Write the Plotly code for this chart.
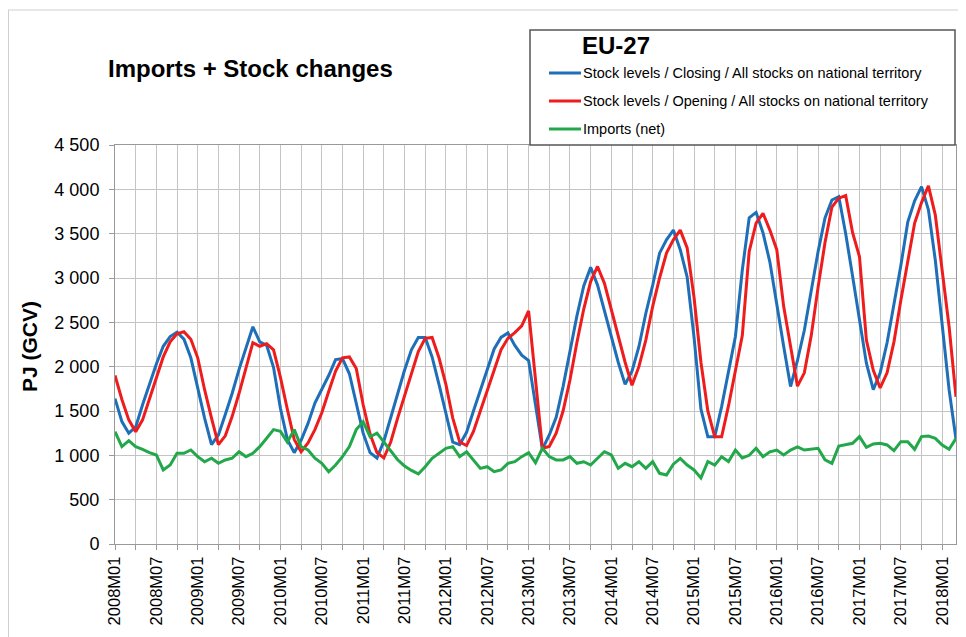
import plotly.graph_objects as go

# EU-27 gas: monthly stock levels and net imports, PJ (GCV), 2008M01 .. 2018M03
years = list(range(2008, 2019))
periods = [f"{y}M{m:02d}" for y in years for m in range(1, 13)][:123]

closing_stock = [
    1640, 1380, 1250, 1320, 1570, 1800, 2030, 2230, 2340, 2390, 2310, 2100,  # 2008
    1740, 1420, 1120, 1230, 1460, 1700, 1970, 2220, 2450, 2280, 2240, 1990,  # 2009
    1530, 1180, 1030, 1170, 1360, 1590, 1750, 1900, 2080, 2090, 1920, 1570,  # 2010
    1250, 1030, 970, 1160, 1430, 1720, 1960, 2190, 2330, 2330, 2110, 1800,   # 2011
    1470, 1150, 1120, 1260, 1500, 1740, 1960, 2200, 2330, 2380, 2240, 2130,  # 2012
    2070, 1560, 1070, 1230, 1430, 1775, 2190, 2570, 2910, 3120, 2920, 2620,  # 2013
    2330, 2050, 1800, 1950, 2225, 2600, 2920, 3280, 3430, 3540, 3320, 3010,  # 2014
    2330, 1520, 1210, 1210, 1550, 1950, 2340, 3090, 3680, 3740, 3510, 3180,  # 2015
    2680, 2230, 1775, 2070, 2410, 2880, 3300, 3677, 3880, 3918, 3500, 3020,  # 2016
    2550, 2040, 1740, 1930, 2270, 2685, 3140, 3630, 3870, 4030, 3770, 3200,  # 2017
    2500, 1740, 1180,                                                        # 2018
]

opening_stock = [
    1900, 1630, 1400, 1265, 1400, 1630, 1880, 2110, 2280, 2370, 2395, 2310,  # 2008
    2100, 1740, 1420, 1120, 1220, 1440, 1700, 2000, 2270, 2230, 2260, 2190,  # 2009
    1880, 1520, 1180, 1040, 1140, 1290, 1480, 1720, 1950, 2100, 2110, 1980,  # 2010
    1570, 1240, 1030, 970, 1150, 1420, 1670, 1930, 2170, 2320, 2330, 2100,   # 2011
    1800, 1420, 1150, 1110, 1270, 1500, 1720, 1960, 2190, 2320, 2384, 2460,  # 2012
    2630, 1850, 1080, 1100, 1250, 1500, 1850, 2270, 2650, 2960, 3130, 2940,  # 2013
    2640, 2340, 2050, 1790, 2000, 2300, 2680, 3000, 3280, 3430, 3540, 3340,  # 2014
    2780, 2050, 1500, 1210, 1210, 1560, 1940, 2350, 3300, 3620, 3730, 3540,  # 2015
    3320, 2680, 2230, 1780, 1930, 2350, 2900, 3400, 3800, 3900, 3930, 3510,  # 2016
    3240, 2300, 1960, 1760, 1930, 2280, 2750, 3170, 3620, 3850, 4040, 3710,  # 2017
    3060, 2450, 1660,                                                        # 2018
]

imports_net = [
    1267, 1098, 1165, 1098, 1068, 1030, 1004, 835, 891, 1023, 1023, 1060,    # 2008
    985, 928, 967, 910, 948, 967, 1041, 985, 1023, 1098, 1192, 1290,         # 2009
    1270, 1150, 1290, 1098, 1060, 967, 910, 815, 891, 985, 1098, 1290,       # 2010
    1380, 1210, 1250, 1150, 1060, 950, 880, 830, 790, 872, 967, 1023,        # 2011
    1079, 1098, 985, 1041, 948, 853, 872, 815, 835, 910, 928, 985,           # 2012
    1030, 917, 1079, 985, 948, 948, 985, 910, 928, 891, 967, 1041,           # 2013
    1004, 853, 910, 872, 928, 853, 928, 797, 778, 900, 965, 890,             # 2014
    835, 745, 930, 890, 985, 930, 1060, 970, 1000, 1080, 985, 1040,          # 2015
    1060, 1005, 1060, 1095, 1060, 1070, 1080, 950, 910, 1105, 1117, 1136,    # 2016
    1211, 1090, 1128, 1136, 1117, 1053, 1154, 1154, 1068, 1211, 1218, 1192,  # 2017
    1117, 1068, 1192,                                                        # 2018
]

series_names = [
    "Stock levels / Closing / All stocks on national territory",
    "Stock levels / Opening / All stocks on national territory",
    "Imports (net)",
]
series_colors = ["#1f6fb8", "#ee1c1c", "#22a84a"]

x_ticks = list(range(0, 123, 6))
x_tick_labels = [periods[i] for i in x_ticks]
y_ticks = [0, 500, 1000, 1500, 2000, 2500, 3000, 3500, 4000, 4500]
y_tick_labels = ["0", "500", "1 000", "1 500", "2 000", "2 500", "3 000", "3 500", "4 000", "4 500"]

FONT = "Liberation Sans, Arial, sans-serif"
GRID = "#c4c4c4"

# the page puts the figure 8px in from the window corner (body margin)
OFF = 8
W, H = 966 - OFF, 637 - OFF
# plot area in window pixels
L, R, T, B = 115, 956, 145, 544


def px_x(px):
    return (px - L) / (R - L)


def px_y(py):
    return (B - py) / (B - T)


fig = go.Figure()
x_idx = list(range(len(periods)))
for name, values, color in zip(series_names, [closing_stock, opening_stock, imports_net], series_colors):
    fig.add_trace(
        go.Scatter(
            x=x_idx,
            y=values,
            mode="lines",
            name=name,
            line=dict(color=color, width=3),
            customdata=periods,
            hovertemplate="%{customdata}: %{y}<extra>" + name + "</extra>",
            showlegend=False,
        )
    )

shapes = [
    # outer chart frame (top and left edge)
    dict(type="line", xref="paper", yref="paper", x0=px_x(OFF), x1=px_x(966), y0=px_y(10), y1=px_y(10),
         line=dict(color="#cfcfcf", width=1)),
    dict(type="line", xref="paper", yref="paper", x0=px_x(OFF + 0.5), x1=px_x(OFF + 0.5), y0=px_y(10), y1=px_y(637),
         line=dict(color="#cfcfcf", width=1)),
    # legend box
    dict(type="rect", xref="paper", yref="paper", x0=px_x(530), x1=px_x(955), y0=px_y(145), y1=px_y(30),
         line=dict(color="#555555", width=1.5), fillcolor="white"),
]

annotations = [
    dict(text="<b>Imports + Stock changes</b>", xref="paper", yref="paper", x=px_x(106), y=px_y(68),
         xanchor="left", yanchor="middle", showarrow=False, font=dict(family=FONT, size=24, color="black")),
    dict(text="<b>PJ (GCV)</b>", xref="paper", yref="paper", x=px_x(29), y=px_y(347), textangle=-90,
         xanchor="center", yanchor="middle", showarrow=False, font=dict(family=FONT, size=21, color="black")),
    dict(text="<b>EU-27</b>", xref="paper", yref="paper", x=px_x(580), y=px_y(45),
         xanchor="left", yanchor="middle", showarrow=False, font=dict(family=FONT, size=24, color="black")),
]

row_y = [73, 101, 129]
for name, color, ry in zip(series_names, series_colors, row_y):
    shapes.append(dict(type="line", xref="paper", yref="paper", x0=px_x(549), x1=px_x(581),
                       y0=px_y(ry), y1=px_y(ry), line=dict(color=color, width=3)))
    annotations.append(dict(text=name, xref="paper", yref="paper", x=px_x(581), y=px_y(ry),
                            xanchor="left", yanchor="middle", showarrow=False,
                            font=dict(family=FONT, size=14.5, color="black")))

fig.update_layout(
    width=W,
    height=H,
    margin=dict(l=L - OFF, r=966 - R, t=T - OFF, b=637 - B),
    paper_bgcolor="white",
    plot_bgcolor="white",
    font=dict(family=FONT, color="black"),
    showlegend=False,
    shapes=shapes,
    annotations=annotations,
    xaxis=dict(
        range=[0, 122],
        tickmode="array",
        tickvals=x_ticks,
        ticktext=x_tick_labels,
        tickangle=-90,
        tickfont=dict(family=FONT, size=16.5, color="black"),
        ticks="outside",
        ticklen=5,
        tickcolor="#999999",
        showgrid=True,
        gridcolor=GRID,
        gridwidth=1,
        minor=dict(dtick=3, tick0=0, showgrid=True, gridcolor=GRID, gridwidth=1,
                   ticks="outside", ticklen=5, tickcolor="#999999"),
        showline=True,
        linecolor="#999999",
        mirror=True,
        zeroline=False,
        fixedrange=True,
    ),
    yaxis=dict(
        range=[0, 4500],
        tickmode="array",
        tickvals=y_ticks,
        ticktext=y_tick_labels,
        tickfont=dict(family=FONT, size=18, color="black"),
        ticks="outside",
        ticklen=5,
        tickcolor="#999999",
        ticklabelstandoff=6,
        showgrid=True,
        gridcolor=GRID,
        gridwidth=1,
        showline=True,
        linecolor="#999999",
        mirror=True,
        zeroline=False,
        fixedrange=True,
    ),
)

fig.write_html("out.html")
